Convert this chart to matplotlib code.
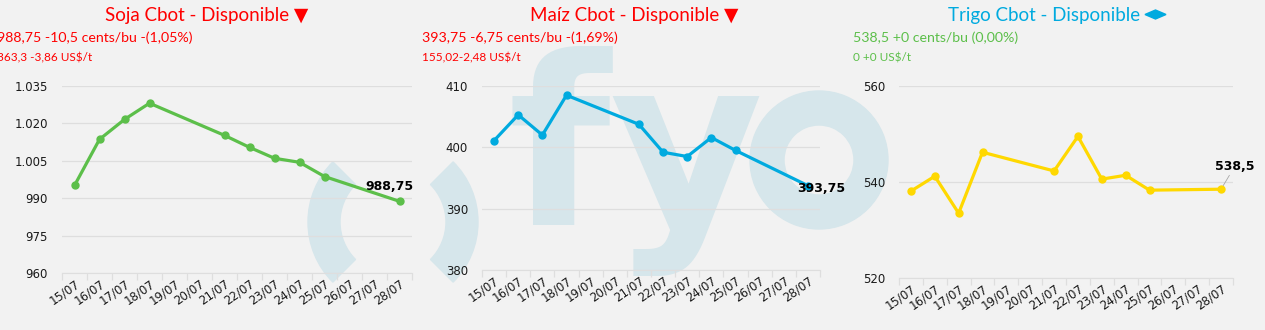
import numpy as np
import matplotlib
matplotlib.use("Agg")
import matplotlib.pyplot as plt
from matplotlib.patches import Wedge, Polygon
from matplotlib.ticker import FuncFormatter

plt.rcParams['font.family'] = ['DejaVu Sans']

days = ['15/07', '16/07', '17/07', '18/07', '19/07', '20/07', '21/07',
        '22/07', '23/07', '24/07', '25/07', '26/07', '27/07', '28/07']
trade_days = ['15/07', '16/07', '17/07', '18/07', '21/07', '22/07',
              '23/07', '24/07', '25/07', '28/07']

soja = [995.1, 1013.6, 1021.6, 1028.1, 1015.2, 1010.4, 1006.0, 1004.4, 998.7, 988.75]
maiz = [401.1, 405.3, 402.0, 408.5, 403.75, 399.2, 398.5, 401.6, 399.5, 393.75]
trigo = [538.1, 541.2, 533.5, 546.2, 542.3, 549.5, 540.6, 541.4, 538.3, 538.5]

titles = ['Soja Cbot - Disponible \u25BC', 'Ma\u00edz Cbot - Disponible \u25BC',
          'Trigo Cbot - Disponible']
line1 = ['988,75 -10,5 cents/bu -(1,05%)', '393,75 -6,75 cents/bu -(1,69%)',
         '538,5 +0 cents/bu (0,00%)']
line2 = ['363,3 -3,86 US$/t', '155,02-2,48 US$/t', '0 +0 US$/t']
last_labels = ['988,75', '393,75', '538,5']

bg = '#f2f2f2'
red = '#ff0000'
green = '#5cbf4a'
blue = '#00aadf'
yellow = '#ffd800'
wm = '#d6e6eb'
grid_c = '#dedede'

fig = plt.figure(figsize=(12.65, 3.3), dpi=100)
fig.patch.set_facecolor(bg)

# watermark "( )fyo"
fig.add_artist(Wedge((3.93, 1.08), 0.85, 135, 225, width=0.32, color=wm,
                     transform=fig.dpi_scale_trans, zorder=-2))
fig.add_artist(Wedge((3.93, 1.08), 0.85, -45, 45, width=0.32, color=wm,
                     transform=fig.dpi_scale_trans, zorder=-2))
fig.add_artist(Wedge((8.19, 1.70), 0.69, 0, 360, width=0.34, color=wm,
                     transform=fig.dpi_scale_trans, zorder=-2))
fig.text(5.08 / 12.65, 1.05 / 3.3, 'fy', fontsize=170, fontweight='bold',
         color=wm, ha='left', va='baseline', zorder=-2)

def thousands(v, pos):
    return '{:,.0f}'.format(v).replace(',', '.')

panels = [
    dict(rect=[62 / 1265, 1 - 273 / 330, 350 / 1265, 187 / 330], data=soja,
         color=green, ylim=(960, 1035), step=15, tcol=red),
    dict(rect=[482 / 1265, 1 - 270 / 330, 338 / 1265, 184 / 330], data=maiz,
         color=blue, ylim=(380, 410), step=10, tcol=red),
    dict(rect=[899 / 1265, 1 - 278 / 330, 334 / 1265, 192 / 330], data=trigo,
         color=yellow, ylim=(520, 560), step=20, tcol=blue),
]
title_x = [207, 634, 1044]
sub_x = [-3, 422, 853]
sub_col = [red, red, green]

for i, p in enumerate(panels):
    ax = fig.add_axes(p['rect'])
    ax.set_facecolor('none')
    xs = [days.index(d) for d in trade_days]
    ax.plot(xs, p['data'], color=p['color'], lw=2.3, marker='o', ms=5,
            solid_joinstyle='round', zorder=3, clip_on=False)
    ax.set_xlim(-0.5, len(days) - 0.5)
    lo, hi = p['ylim']
    ax.set_ylim(lo, hi)
    ax.set_yticks(np.arange(lo, hi + 0.1, p['step']))
    ax.yaxis.set_major_formatter(FuncFormatter(thousands))
    ax.grid(axis='y', color=grid_c, lw=0.9)
    ax.set_axisbelow(True)
    for s in ['top', 'right', 'left']:
        ax.spines[s].set_visible(False)
    ax.spines['bottom'].set_color(grid_c)
    ax.tick_params(axis='y', length=0, pad=10, labelsize=8.5, labelcolor='#1a1a1a')
    ax.set_xticks(np.arange(len(days)))
    ax.set_xticklabels(days, rotation=35, ha='right', rotation_mode='anchor',
                       fontsize=8.5, color='#1a1a1a')
    ax.tick_params(axis='x', which='major', length=0, pad=3)
    ax.set_xticks(np.arange(-0.5, len(days)), minor=True)
    ax.tick_params(axis='x', which='minor', length=5, color=grid_c, width=0.9)

    # last value label
    lx, ly = xs[-1], p['data'][-1]
    if i == 0:
        ax.annotate(last_labels[i], (lx, ly), xytext=(-7, 6), textcoords='offset points',
                    fontsize=9, fontweight='bold', ha='center', va='bottom')
    elif i == 1:
        ax.annotate(last_labels[i], (lx, ly), xytext=(-8, -2), textcoords='offset points',
                    fontsize=9, fontweight='bold', ha='left', va='center')
    else:
        ax.annotate(last_labels[i], (lx, ly), xytext=(10, 12), textcoords='offset points',
                    fontsize=9, fontweight='bold', ha='center', va='bottom',
                    arrowprops=dict(arrowstyle='-', color='#a6a6a6', lw=0.6,
                                    shrinkA=0, shrinkB=3))

    fig.text(title_x[i] / 1265, 1 - 15 / 330, titles[i], color=p['tcol'],
             fontsize=13.5, ha='center', va='center', family=['Lato', 'DejaVu Sans'])
    fig.text(sub_x[i] / 1265, 1 - 38 / 330, line1[i], color=sub_col[i],
             fontsize=10.2, ha='left', va='center', family=['Lato', 'DejaVu Sans'])
    fig.text(sub_x[i] / 1265, 1 - 58 / 330, line2[i], color=sub_col[i],
             fontsize=8.5, ha='left', va='center', family=['Lato', 'DejaVu Sans'])

# flat diamond after the Trigo title
cx, cy = 11.555, 3.3 - 0.145
fig.add_artist(Polygon([(cx - 0.105, cy), (cx, cy + 0.045), (cx + 0.105, cy),
                        (cx, cy - 0.045)], closed=True, color=blue,
                       transform=fig.dpi_scale_trans))

fig.savefig('out.png', dpi=100, facecolor=bg)
